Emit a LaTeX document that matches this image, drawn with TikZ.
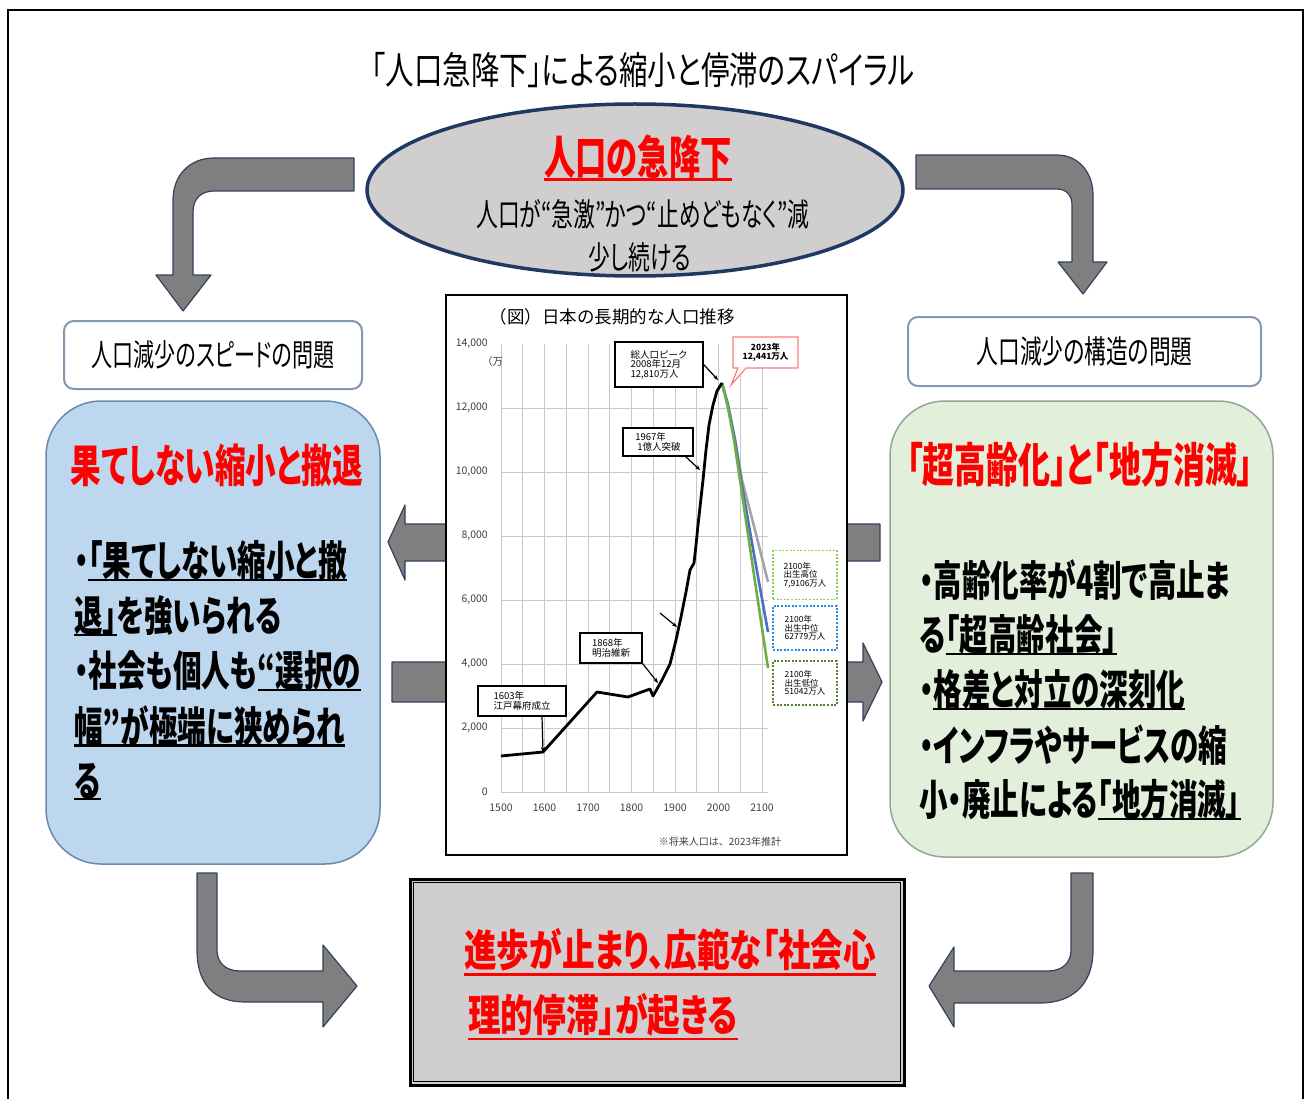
\documentclass[tikz,border=0pt]{standalone}
\usepackage{fontspec}
\usepackage{graphicx}
\usetikzlibrary{arrows.meta,shapes.geometric}
\newfontfamily\jp[FakeStretch=0.68,RawFeature={+palt}]{Noto Sans CJK JP}
\newfontfamily\jpw[FakeStretch=0.75,RawFeature={+palt}]{Noto Sans CJK JP}
\newfontfamily\jpn{Noto Sans CJK JP}
\newsavebox\ulbox
\newcommand\myul[2][-0.1em]{\sbox\ulbox{#2}\rlap{\smash{\rule[#1]{\wd\ulbox}{0.05em}}}\usebox\ulbox}
\newcommand\fs[1]{\fontsize{#1}{#1}\selectfont}
\definecolor{arrgray}{HTML}{7F7F7F}
\definecolor{arredge}{HTML}{34425E}
\definecolor{ellfill}{HTML}{D0CECE}
\definecolor{elledge}{HTML}{1F3864}
\definecolor{bluefill}{HTML}{BDD7EE}
\definecolor{blueedge}{HTML}{6A89B0}
\definecolor{greenfill}{HTML}{E2EFDA}
\definecolor{greenedge}{HTML}{8FA89A}
\definecolor{labeledge}{HTML}{8497B0}
\definecolor{gridc}{HTML}{C8C8C8}
\definecolor{highc}{HTML}{A5A5A5}
\definecolor{midc}{HTML}{4472C4}
\definecolor{lowc}{HTML}{70AD47}
\definecolor{dothigh}{HTML}{92D050}
\definecolor{dotmid}{HTML}{2E8BDB}
\definecolor{dotlow}{HTML}{548235}
\definecolor{calloutred}{HTML}{FF7C80}
\definecolor{boxgray}{HTML}{D0CECE}
\definecolor{axtxt}{HTML}{404040}
\begin{document}
\begin{tikzpicture}[x=1pt,y=-1pt,
  arr/.style={fill=arrgray, draw=arredge, line width=1.2, line join=round},
  lbl/.style={draw=labeledge, line width=2, fill=white, rounded corners=10, inner sep=0, font=\jp\fs{32}},
  callbox/.style={draw=black, line width=1.3, fill=white, align=left, inner sep=0, font=\jpn\fs{9.5}},
  dotbox/.style={line width=1.8, dash pattern=on 2pt off 1.6pt, fill=white, align=left, inner sep=0, font=\jpn\fs{8.5}, minimum width=64},
  ptr/.style={-{Stealth[length=5pt,width=4pt]}, line width=1.2},
  bodytxt/.style={anchor=west, inner sep=0, font=\jp\bfseries\fs{42}},
  redtitle/.style={inner sep=0, text=red, font=\jp\bfseries\fs{47}},
  axlab/.style={inner sep=0, text=axtxt, font=\jpn\fs{10.5}},
]
\useasboundingbox (0,0) rectangle (1308,1099);
\fill[white] (0,0) rectangle (1308,1099);
\draw[line width=2] (8,10) rectangle (1303,1115);

% title
\node[inner sep=0, font=\jpw\fs{38}] (title) at (643,70) {「人口急降下」による縮小と停滞のスパイラル};

% top arrows
\draw[arr] (354,158) -- (214,158) .. controls (190,158) and (173,175) .. (173,200) -- (173,275) -- (156,275) -- (183,311) -- (211,275) -- (193,275) -- (193,212) .. controls (193,199) and (201,191) .. (214,191) -- (354,191) -- cycle;
\draw[arr] (916,155) -- (1057,155) .. controls (1078,155) and (1093,172) .. (1093,195) -- (1093,262) -- (1107,262) -- (1083,294) -- (1058,262) -- (1072,262) -- (1072,205) .. controls (1072,195) and (1066,189) .. (1057,189) -- (916,189) -- cycle;

% ellipse
\node[ellipse, draw=elledge, line width=3.5, fill=ellfill, minimum width=536, minimum height=172, inner sep=0] (ell) at (635,190) {};
\node[inner sep=0, text=red, font=\jp\bfseries\fs{46}] (elltitle) at (638,157) {\myul[-0.13em]{人口の急降下}};
\node[inner sep=0, font=\jp\fs{32}] (ellsub1) at (643,214) {人口が“急激”かつ“止めどもなく”減};
\node[inner sep=0, font=\jp\fs{32}] (ellsub2) at (640,257) {少し続ける};

% label boxes
\node[lbl, minimum width=298, minimum height=68, font=\jp\fs{31}] (lspeed) at (213,355) {人口減少のスピードの問題};
\node[lbl, minimum width=353, minimum height=69] (lstruct) at (1084.5,351.5) {人口減少の構造の問題};

% middle arrows (behind chart)
\draw[arr] (880,524) -- (405,524) -- (405,505) -- (388,542) -- (405,580) -- (405,561) -- (880,561) -- cycle;
\draw[arr] (392,662) -- (863,662) -- (863,643) -- (882,682) -- (863,721) -- (863,702) -- (392,702) -- cycle;

% blue box
\node[draw=blueedge, line width=1.5, fill=bluefill, rounded corners=55, minimum width=334, minimum height=463] (bluebox) at (213,632.5) {};
\node[redtitle, font=\jp\bfseries\fs{45}] (bluetitle) at (217,465) {果てしない縮小と撤退};
\node[bodytxt] (bl1) at (74,561) {・\myul{「果てしない縮小と撤}};
\node[bodytxt] (bl2) at (74,616) {\myul{退」}を強いられる};
\node[bodytxt] (bl3) at (74,671) {・社会も個人も\myul{“選択の}};
\node[bodytxt] (bl4) at (74,726) {\myul{幅”が極端に狭められ}};
\node[bodytxt] (bl5) at (74,781) {\myul{る}};

% green box
\node[draw=greenedge, line width=1.5, fill=greenfill, rounded corners=55, minimum width=383, minimum height=456] (greenbox) at (1081.5,629) {};
\node[redtitle] (greentitle) at (1080,465) {「超高齢化」と「地方消滅」};
\node[bodytxt] (gr1) at (919,580) {・高齢化率が4割で高止ま};
\node[bodytxt] (gr2) at (919,635) {る\myul{「超高齢社会」}};
\node[bodytxt] (gr3) at (919,690) {・\myul{格差と対立の深刻化}};
\node[bodytxt] (gr4) at (919,745) {・インフラやサービスの縮};
\node[bodytxt] (gr5) at (919,800) {小・廃止による\myul{「地方消滅」}};

% chart
\node[draw=black, line width=1.5, fill=white, minimum width=401, minimum height=560, inner sep=0] (chart) at (646.5,575) {};
\node[inner sep=0, font=\jpn\fs{17.5}] (ctitle) at (612,317) {（図）日本の長期的な人口推移};
\foreach \i in {0,...,12} \draw[gridc, line width=0.9] ({501+21.75*\i},344) -- ({501+21.75*\i},792);
\foreach \j in {0,...,6} \draw[gridc, line width=0.9] (501,{792-64*\j}) -- (768,{792-64*\j});
\foreach \j/\l in {0/0,1/{2,000},2/{4,000},3/{6,000},4/{8,000},5/{10,000},6/{12,000},7/{14,000}}
  \node[axlab, anchor=east] (yl\j) at (488,{792-64*\j}) {\l};
\node[axlab, anchor=west] (yunit) at (482,362) {（万};
\foreach \i/\l in {0/1500,2/1600,4/1700,6/1800,8/1900,10/2000,12/2100}
  \node[axlab] (xl\i) at ({501+21.75*\i},808) {\l};
\node[axlab, font=\jpn\fs{10}] (foot) at (720,842) {※将来人口は、2023年推計};

% projections
\draw[highc, line width=2.6, line join=round] (722,383) -- (728,405) -- (735,440) -- (742,480) -- (755,530) -- (768,582);
\draw[midc, line width=2.6, line join=round] (722,383) -- (728,405) -- (735,440) -- (741,480) -- (755,560) -- (768,632);
\draw[lowc, line width=2.6, line join=round] (722,383) -- (728,408) -- (734,440) -- (740,480) -- (754,575) -- (768,668);
% history
\draw[black, line width=2.8, line join=round] (501,756) -- (543,752) -- (597,692) -- (628,697) -- (650,689) -- (653,696) -- (657,689) -- (662,680) -- (670,664) -- (676,640) -- (681,617) -- (686,592) -- (690,570) -- (694,563) -- (696,545) -- (698,525) -- (703,480) -- (706,450) -- (709,425) -- (713,405) -- (717,391) -- (722,383);

% callouts
\coordinate (cpeak) at (718,380);
\coordinate (c1967) at (700,470);
\coordinate (c1868) at (658,683);
\coordinate (c1603) at (543,752);
\coordinate (sa) at (660,613);
\coordinate (sb) at (677,627);
\node[callbox, minimum width=88, minimum height=45] (peak) at (659,364.5) {総人口ピーク\\2008年12月\\12,810万人};
\draw[ptr] (peak.east) -- (cpeak);
\draw[calloutred, line width=1.2, fill=white] (733,337) -- (798,337) -- (798,368) -- (746,368) -- (731,385) -- (738,368) -- (733,368) -- cycle;
\node[inner sep=0, align=center, font=\jpn\bfseries\fs{8.5}] (c2023) at (765.5,352.5) {2023年\\12,441万人};
\node[callbox, minimum width=70, minimum height=28] (b1967) at (658,442) {1967年\\\ 1億人突破};
\draw[ptr] ([xshift=-8]b1967.south east) -- (c1967);
\node[callbox, minimum width=62, minimum height=30] (b1868) at (611,648) {1868年\\明治維新};
\draw[ptr] (b1868.south east) -- (c1868);
\node[callbox, minimum width=88, minimum height=30] (b1603) at (522,701) {1603年\\江戸幕府成立};
\draw[ptr] ([xshift=20]b1603.south) -- (c1603);
\draw[ptr] (sa) -- (sb);

\node[dotbox, draw=dothigh, minimum height=49] (dhigh) at (805,575) {2100年\\出生高位\\7,9106万人};
\node[dotbox, draw=dotmid, minimum height=44] (dmid) at (805,628) {2100年\\出生中位\\62779万人};
\node[dotbox, draw=dotlow, minimum height=44] (dlow) at (805,683) {2100年\\出生低位\\51042万人};

% bottom arrows
\draw[arr] (197,873) -- (217,873) -- (217,950) .. controls (217,963) and (226,971) .. (240,971) -- (323,971) -- (323,945) -- (357,986) -- (323,1027) -- (323,1002) -- (245,1002) .. controls (215,1002) and (197,985) .. (197,950) -- cycle;
\draw[arr] (1093,873) -- (1071,873) -- (1071,950) .. controls (1071,963) and (1062,971) .. (1048,971) -- (954,971) -- (954,947) -- (929,986) -- (954,1027) -- (954,1003) -- (1040,1003) .. controls (1072,1003) and (1093,985) .. (1093,950) -- cycle;

% bottom box
\node[draw=black, line width=3, fill=boxgray, minimum width=494, minimum height=206, inner sep=0] (bottom) at (657,982) {};
\draw[line width=1.2] ([shift={(5,5)}]bottom.north west) rectangle ([shift={(-5,-5)}]bottom.south east);
\node[anchor=west, inner sep=0, text=red, font=\jpw\bfseries\fs{43.5}] (bt1) at (464,950) {\myul[-0.2em]{進歩が止まり、広範な「社会心}};
\node[anchor=west, inner sep=0, text=red, font=\jpw\bfseries\fs{43.5}] (bt2) at (468,1015) {\myul[-0.2em]{理的停滞」が起きる}};
\end{tikzpicture}
\end{document}
